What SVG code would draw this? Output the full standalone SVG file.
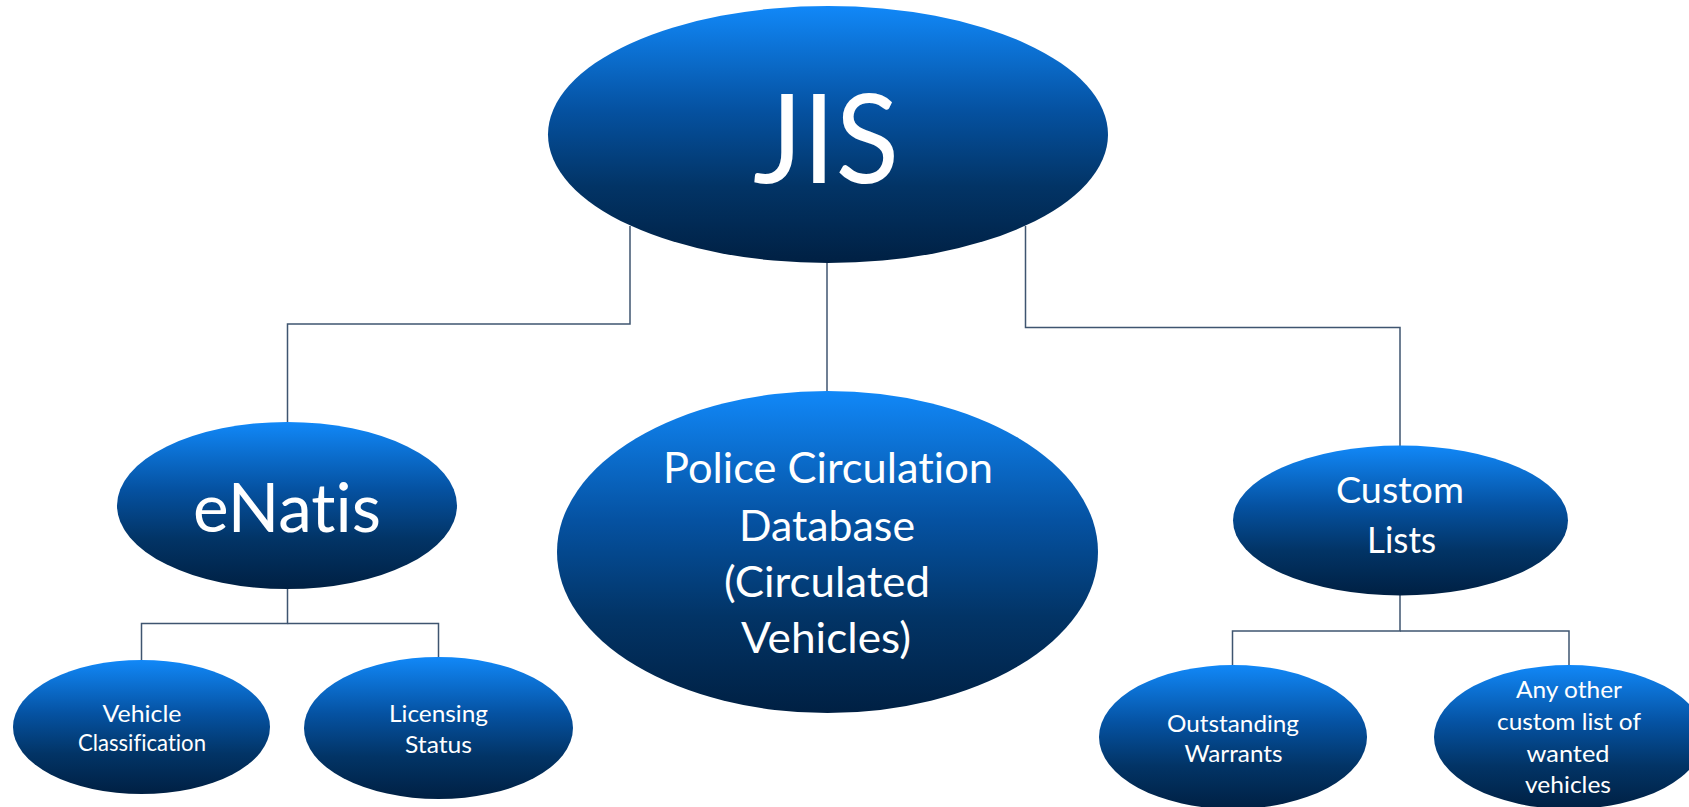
<svg xmlns="http://www.w3.org/2000/svg" width="1689" height="807" viewBox="0 0 1689 807">
<defs>
<linearGradient id="blue" x1="0" y1="0" x2="0" y2="1">
<stop offset="0" stop-color="#1188f8"/>
<stop offset="0.4" stop-color="#0552a2"/>
<stop offset="0.7" stop-color="#023466"/>
<stop offset="1" stop-color="#002043"/>
</linearGradient>
</defs>
<style>
.node{fill:url(#blue);}
.t{fill:#ffffff;font-family:Lato,"Open Sans","Liberation Sans",sans-serif;text-anchor:middle;font-variant-ligatures:none;font-feature-settings:"liga" 0,"clig" 0,"dlig" 0;}
.conn{fill:none;stroke:#3f5570;stroke-width:1.5;}
</style>
<rect width="1689" height="807" fill="#ffffff"/>
<g id="connectors">
<polyline class="conn" points="630,226 630,324 287.5,324 287.5,422"/>
<line class="conn" x1="827" y1="262" x2="827" y2="392"/>
<polyline class="conn" points="1025.5,226 1025.5,327.5 1400,327.5 1400,446"/>
<polyline class="conn" points="287.5,588 287.5,623.5 141.5,623.5 141.5,660"/>
<polyline class="conn" points="287.5,623.5 438.5,623.5 438.5,657"/>
<polyline class="conn" points="1400,595 1400,631 1232.5,631 1232.5,666"/>
<polyline class="conn" points="1400,631 1569,631 1569,666"/>
</g>
<g id="jis">
<ellipse class="node" cx="828" cy="134.5" rx="280" ry="128.5"/>
<text class="t" x="826" y="183" font-size="125" textLength="146" lengthAdjust="spacingAndGlyphs">JIS</text>
</g>
<g id="enatis">
<ellipse class="node" cx="287" cy="505.5" rx="170" ry="83.5"/>
<text class="t" x="287" y="532" font-size="67" textLength="188" lengthAdjust="spacingAndGlyphs">eNatis</text>
</g>
<g id="police">
<ellipse class="node" cx="827.5" cy="552" rx="270.5" ry="161"/>
<text class="t" x="828" y="483" font-size="42" textLength="330" lengthAdjust="spacingAndGlyphs">Police Circulation</text>
<text class="t" x="827" y="541" font-size="42" textLength="176" lengthAdjust="spacingAndGlyphs">Database</text>
<text class="t" x="827" y="597" font-size="42" textLength="206" lengthAdjust="spacingAndGlyphs">(Circulated</text>
<text class="t" x="826" y="653" font-size="42" textLength="170" lengthAdjust="spacingAndGlyphs">Vehicles)</text>
</g>
<g id="custom">
<ellipse class="node" cx="1400.5" cy="520.5" rx="167.5" ry="75"/>
<text class="t" x="1400" y="503" font-size="36.5" textLength="128" lengthAdjust="spacingAndGlyphs">Custom</text>
<text class="t" x="1401.5" y="553" font-size="36.5" textLength="69" lengthAdjust="spacingAndGlyphs">Lists</text>
</g>
<g id="vehicle">
<ellipse class="node" cx="141.5" cy="727" rx="128.5" ry="67"/>
<text class="t" x="142" y="722" font-size="22.5" textLength="79" lengthAdjust="spacingAndGlyphs">Vehicle</text>
<text class="t" x="142" y="751" font-size="22.5" textLength="128" lengthAdjust="spacingAndGlyphs">Classification</text>
</g>
<g id="licensing">
<ellipse class="node" cx="438.5" cy="728" rx="134.5" ry="71"/>
<text class="t" x="438.5" y="722" font-size="22.5" textLength="99" lengthAdjust="spacingAndGlyphs">Licensing</text>
<text class="t" x="438.5" y="753" font-size="22.5" textLength="67" lengthAdjust="spacingAndGlyphs">Status</text>
</g>
<g id="warrants">
<ellipse class="node" cx="1233" cy="737" rx="134" ry="72"/>
<text class="t" x="1233" y="732" font-size="24" textLength="132" lengthAdjust="spacingAndGlyphs">Outstanding</text>
<text class="t" x="1233.5" y="762" font-size="24" textLength="98" lengthAdjust="spacingAndGlyphs">Warrants</text>
</g>
<g id="other">
<ellipse class="node" cx="1569" cy="737" rx="135" ry="72"/>
<text class="t" x="1569" y="698" font-size="24" textLength="106" lengthAdjust="spacingAndGlyphs">Any other</text>
<text class="t" x="1569" y="730" font-size="24" textLength="144" lengthAdjust="spacingAndGlyphs">custom list of</text>
<text class="t" x="1568" y="762" font-size="24" textLength="83" lengthAdjust="spacingAndGlyphs">wanted</text>
<text class="t" x="1568" y="793" font-size="24" textLength="86" lengthAdjust="spacingAndGlyphs">vehicles</text>
</g>
</svg>
